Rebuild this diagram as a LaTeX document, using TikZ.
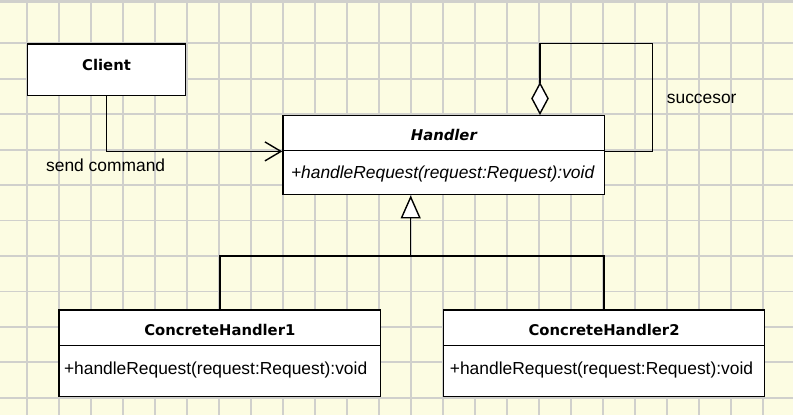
\documentclass[tikz,border=0pt]{standalone}
\usepackage{fontspec}
\setmainfont{Liberation Sans}
\newfontfamily\titlefont{DejaVu Sans}
\usetikzlibrary{arrows.meta}
\definecolor{paper}{RGB}{252,252,226}
\definecolor{gridcol}{RGB}{208,208,204}
\tikzset{
  box/.style={draw, fill=white, line width=1.4pt, inner sep=0pt, anchor=north west},
  titlebox/.style={box, font=\titlefont\bfseries\fontsize{14.8pt}{17pt}\selectfont},
  methbox/.style={box, align=left, font=\fontsize{17.4pt}{20pt}\selectfont},
  lbl/.style={anchor=base west, inner sep=0pt, font=\fontsize{17.4pt}{20pt}\selectfont},
  conn/.style={line width=1.4pt},
  navarrow/.style={conn, -{Straight Barb[length=16pt,width=19pt]}},
  aggarrow/.style={conn, {Diamond[length=33pt,width=17.6pt,fill=white]}-},
  inharrow/.style={conn, -{Triangle[length=23pt,width=20pt,fill=white]}}
}
\begin{document}
\begin{tikzpicture}[x=1pt,y=-1pt]
\useasboundingbox[fill=paper] (0,0) rectangle (793,415);
% grid
\foreach \k in {0,...,23} \draw[gridcol, line width=1.8pt] (26.7+32*\k,0) -- (26.7+32*\k,415);
\foreach \k in {0,...,10} \draw[gridcol, line width=1.8pt] (0,43.3+35.45*\k) -- (793,43.3+35.45*\k);
\draw[gridcol, line width=2.5pt] (0,1.5) -- (793,1.5);

% classes
\node[titlebox, minimum width=158.3pt, text height=26.7pt, text depth=25pt] (client) at (26.7,43.3) {Client};
\node[titlebox, minimum width=321.7pt, text height=25pt, text depth=10pt] (handlerT) at (282.3,115) {\itshape Handler};
\node[methbox, inner xsep=8pt, text width=305.7pt, text height=27.7pt, text depth=16.3pt] (handlerM) at (282.3,150) {\itshape +handleRequest(request:Request):void};
\node[titlebox, minimum width=321.7pt, text height=25.4pt, text depth=10.3pt] (ch1T) at (58.3,309.3) {ConcreteHandler1};
\node[methbox, inner xsep=5pt, text width=311.7pt, text height=29pt, text depth=21.7pt] (ch1M) at (58.3,345) {+handleRequest(request:Request):void};
\node[titlebox, minimum width=321.3pt, text height=25.7pt, text depth=10pt] (ch2T) at (442.7,309.3) {ConcreteHandler2};
\node[methbox, inner xsep=6.5pt, text width=308.3pt, text height=28.3pt, text depth=22.4pt] (ch2M) at (442.7,345) {+handleRequest(request:Request):void};

% helper coordinates
\coordinate (looptl) at (540,43.3);
\coordinate (looptr) at (652.3,43.3);
\coordinate (junc) at (410.7,256);

% connectors
\draw[navarrow] (client.south) |- (handlerT.south west);
\draw[aggarrow] (handlerT.north -| looptl) -- (looptl) -- (looptr) |- (handlerT.south east);
\draw[inharrow] (junc) -- (handlerM.south -| junc);
\draw[conn] (ch1T.north) |- (junc) -| (ch2T.north);

% labels
\node[lbl] (sendlbl) at (46,171.5) {send command};
\node[lbl] (suclbl) at (666.7,103.3) {succesor};
\end{tikzpicture}
\end{document}
